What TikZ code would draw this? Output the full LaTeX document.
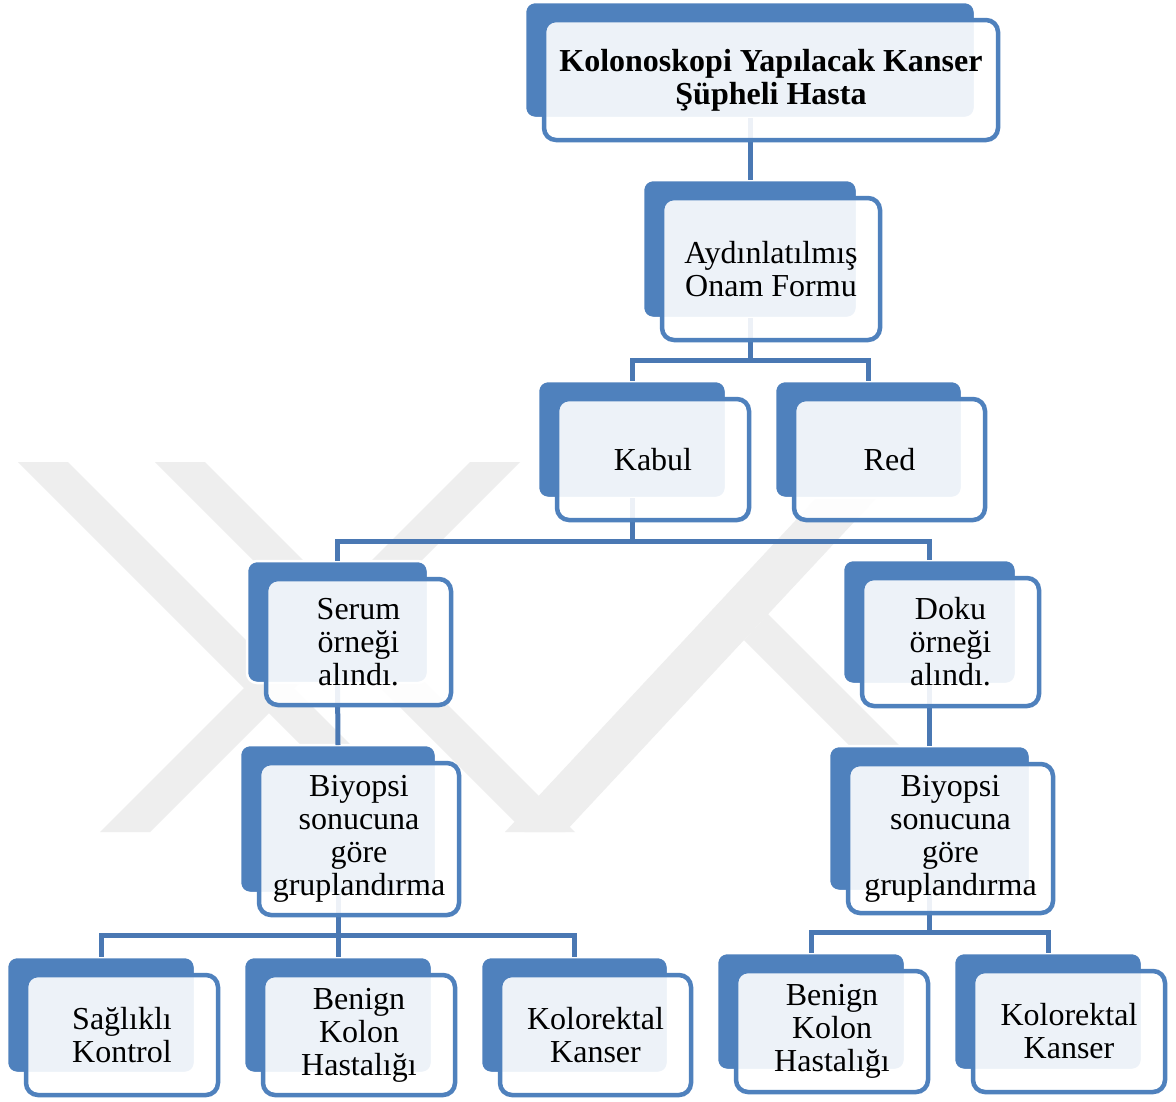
\documentclass[tikz,border=0pt]{standalone}
\usepackage{fontspec}
\setmainfont{Liberation Serif}
\usetikzlibrary{calc,fit}
\definecolor{boxblue}{HTML}{4F81BD}
\definecolor{linkblue}{HTML}{4A78B3}
\definecolor{wm}{HTML}{EEEEEE}
\newcommand\backnode[5]{\node[backbox, minimum width={#4-#2}, minimum height={#5-#3}] (#1) at ({(#2+#4)/2},{(#3+#5)/2}) {};}
\newcommand\frontnode[2]{%
  \node[frontbox, fit={($(#1.north west)+(19,18)$) ($(#1.south east)+(23,22)$)}] (#1f) {};
  \node[lbl] (#1t) at (#1f.center) {#2};}
\begin{document}
\begin{tikzpicture}[x=1pt,y=-1pt,
  backbox/.style={draw=white, line width=2.5pt, fill=boxblue, rounded corners=10pt, inner sep=0pt, outer sep=0pt},
  frontbox/.style={draw=boxblue, line width=4.5pt, fill=white, fill opacity=0.9, draw opacity=1, rounded corners=12pt, inner sep=0pt, outer sep=0pt},
  lbl/.style={align=center, font=\fontsize{32}{33}\selectfont, inner sep=0pt, text=black, text opacity=1},
  conn/.style={draw=linkblue, line width=5pt},
  wmark/.style={fill=wm}]
\useasboundingbox (0,0) rectangle (1176,1101);
\fill[white] (0,0) rectangle (1176,1101);

% watermark
\begin{scope}
\clip (0,462) rectangle (1176,832);
\fill[wmark] (18,462) -- (68,462) -- (438,832) -- (388,832) -- cycle;
\fill[wmark] (155,462) -- (205,462) -- (575,832) -- (525,832) -- cycle;
\fill[wmark] (470,462) -- (520,462) -- (150,832) -- (100,832) -- cycle;
\fill[wmark] (850,462) -- (910,462) -- (565,832) -- (505,832) -- cycle;
\fill[wmark] (768,614.2) -- (744,640) -- (936,832) -- (986,832) -- cycle;
\end{scope}

% back shapes
\backnode{top}{525}{2}{975}{118}
\backnode{onam}{643}{180}{857}{318}
\backnode{kabul}{538}{381}{726}{498}
\backnode{red}{775}{381}{962}{498}
\backnode{serum}{247}{561}{428}{683}
\backnode{doku}{843}{560}{1016}{684}
\backnode{biyL}{240}{745}{436}{893}
\backnode{biyR}{829}{746}{1030}{891}
\backnode{sag}{7}{957}{195}{1073}
\backnode{benL}{244}{957}{432}{1073}
\backnode{kolL}{481}{957}{668}{1073}
\backnode{benR}{717}{953}{905}{1070}
\backnode{kolR}{954}{953}{1142}{1070}

% connectors
\draw[conn] (top.south) -- (onam.north);
\draw[conn] (onam.south) -- ++(0,42) -| (kabul.north);
\draw[conn] (onam.south) -- ++(0,42) -| (red.north);
\draw[conn] (kabul.south) -- ++(0,43) -| (serum.north);
\draw[conn] (kabul.south) -- ++(0,43) -| (doku.north);
\draw[conn] (serum.south) -- (biyL.north);
\draw[conn] (doku.south) -- (biyR.north);
\draw[conn] (biyL.south) -- ++(0,42) -| (sag.north);
\draw[conn] (biyL.south) -- ++(0,42) -| (benL.north);
\draw[conn] (biyL.south) -- ++(0,42) -| (kolL.north);
\draw[conn] (biyR.south) -- ++(0,41) -| (benR.north);
\draw[conn] (biyR.south) -- ++(0,41) -| (kolR.north);

% front shapes and texts
\frontnode{top}{\textbf{Kolonoskopi Yapılacak Kanser}\\\textbf{Şüpheli Hasta}}
\frontnode{onam}{Aydınlatılmış\\Onam Formu}
\frontnode{kabul}{Kabul}
\frontnode{red}{Red}
\frontnode{serum}{Serum\\örneği\\alındı.}
\frontnode{doku}{Doku\\örneği\\alındı.}
\frontnode{biyL}{Biyopsi\\sonucuna\\göre\\gruplandırma}
\frontnode{biyR}{Biyopsi\\sonucuna\\göre\\gruplandırma}
\frontnode{sag}{Sağlıklı\\Kontrol}
\frontnode{benL}{Benign\\Kolon\\Hastalığı}
\frontnode{kolL}{Kolorektal\\Kanser}
\frontnode{benR}{Benign\\Kolon\\Hastalığı}
\frontnode{kolR}{Kolorektal\\Kanser}
\end{tikzpicture}
\end{document}
